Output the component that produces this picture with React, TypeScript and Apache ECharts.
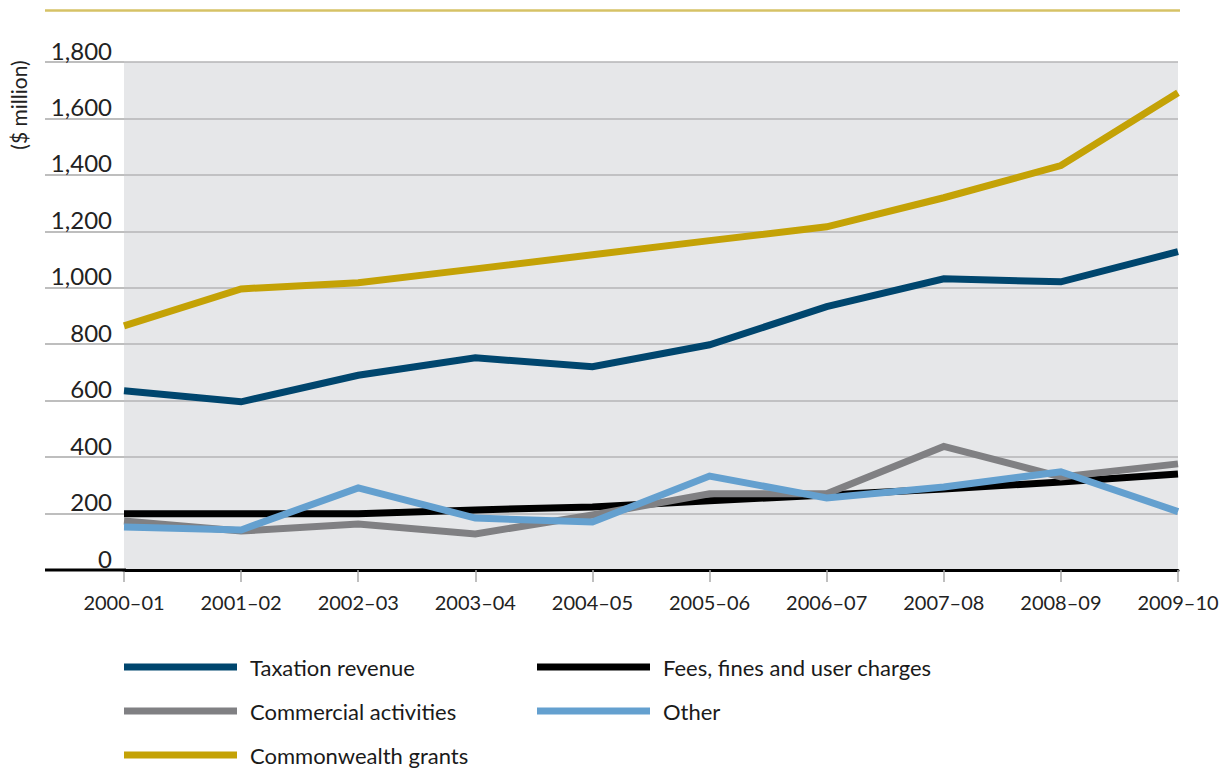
import React, { useEffect, useRef } from "react";
import * as echarts from "echarts";

const categories = ["2000–01", "2001–02", "2002–03", "2003–04", "2004–05", "2005–06", "2006–07", "2007–08", "2008–09", "2009–10"];
const taxation = [635, 596, 690, 752, 720, 798, 933, 1032, 1021, 1128];
const fees = [199, 199, 199, 213, 223, 245, 266, 287, 312, 340];
const commercial = [174, 138, 163, 128, 195, 270, 270, 438, 330, 376];
const other = [152, 142, 291, 184, 170, 333, 255, 294, 348, 207];
const grants = [865, 996, 1018, 1067, 1117, 1167, 1216, 1319, 1433, 1691];
const yTicks = [0, 200, 400, 600, 800, 1000, 1200, 1400, 1600, 1800];

const FONT = "Lato, 'Open Sans', sans-serif";

const seriesDefs = [
  { name: "Taxation revenue", data: taxation, color: "#00466e", z: 3 },
  { name: "Fees, fines and user charges", data: fees, color: "#000000", z: 2 },
  { name: "Commercial activities", data: commercial, color: "#808083", z: 3 },
  { name: "Other", data: other, color: "#64a0cf", z: 4 },
  { name: "Commonwealth grants", data: grants, color: "#c4a206", z: 3 },
];

const legendPos = [
  { left: 124, top: 656 },
  { left: 537, top: 656 },
  { left: 124, top: 700 },
  { left: 537, top: 700 },
  { left: 124, top: 744 },
];

export default function App() {
  const ref = useRef<HTMLDivElement>(null);
  useEffect(() => {
    if (!ref.current) return;
    const chart = echarts.init(ref.current, undefined, { renderer: "svg" });
    chart.setOption({
      animation: false,
      textStyle: { fontFamily: FONT },
      grid: {
        left: 124,
        right: 45,
        top: 62,
        bottom: 199,
        show: true,
        backgroundColor: "#e6e7e9",
        borderWidth: 0,
      },
      xAxis: {
        type: "category",
        data: categories,
        boundaryGap: false,
        axisLine: { show: true, lineStyle: { color: "#000", width: 3 } },
        axisTick: { show: true, length: 12, lineStyle: { color: "#aaaaaa", width: 1.5 } },
        axisLabel: { color: "#222", fontSize: 20, margin: 22, fontFamily: FONT },
        splitLine: { show: false },
        z: 5,
      },
      yAxis: {
        type: "value",
        min: 0,
        max: 1800,
        interval: 200,
        axisLine: { show: false },
        axisTick: { show: true, inside: false, length: 79, lineStyle: { color: "#a8a8a8", width: 1.5 } },
        axisLabel: {
          color: "#222",
          fontSize: 24,
          margin: 12,
          verticalAlign: "bottom",
          fontFamily: FONT,
          formatter: (v: number) => (yTicks.includes(v) ? v.toLocaleString("en-US") : ""),
        },
        splitLine: { show: true, lineStyle: { color: "#b4b4b6", width: 1.5 } },
      },
      legend: seriesDefs.map((s, i) => ({
        data: [{ name: s.name, icon: "rect", itemStyle: { color: s.color, borderWidth: 0 } }],
        left: legendPos[i].left,
        top: legendPos[i].top,
        padding: 0,
        icon: "rect",
        itemWidth: 113,
        itemHeight: 7,
        itemGap: 0,
        itemStyle: { borderWidth: 0 },
        lineStyle: { width: 0 },
        textStyle: { fontSize: 22, color: "#1a1a1a", fontFamily: FONT, padding: [0, 0, 0, 8] },
        selectedMode: false,
      })),
      graphic: [
        {
          type: "line",
          shape: { x1: 45, y1: 10.5, x2: 1180, y2: 10.5 },
          style: { stroke: "#d6c266", lineWidth: 2.5 },
        },
        {
          type: "line",
          shape: { x1: 45, y1: 570, x2: 126, y2: 570 },
          style: { stroke: "#000", lineWidth: 3 },
          z: 10,
        },
        {
          type: "text",
          x: 18,
          y: 105,
          rotation: Math.PI / 2,
          style: {
            text: "($ million)",
            fontSize: 21,
            fontFamily: FONT,
            fill: "#222",
            textAlign: "center",
            textVerticalAlign: "middle",
          },
        },
      ],
      series: seriesDefs.map((s) => ({
        name: s.name,
        type: "line",
        data: s.data,
        showSymbol: false,
        symbol: "none",
        z: s.z,
        color: s.color,
        lineStyle: { color: s.color, width: 7, join: "miter" },
        itemStyle: { color: s.color },
      })),
    });
    return () => chart.dispose();
  }, []);
  return <div ref={ref} style={{ width: 1223, height: 769, position: "absolute", left: 0, top: 0 }} />;
}
